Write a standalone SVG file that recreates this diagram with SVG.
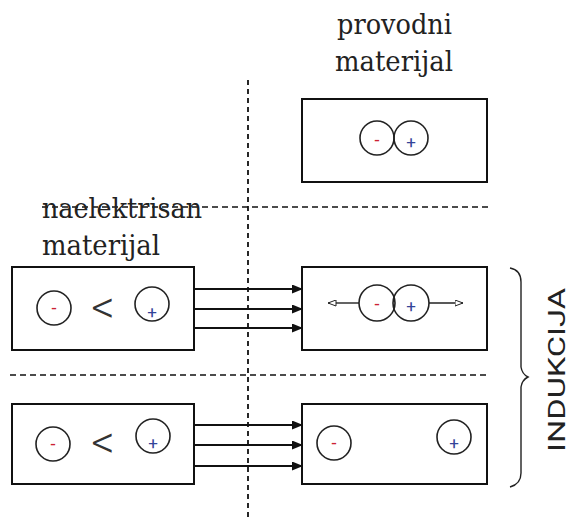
<svg xmlns="http://www.w3.org/2000/svg" width="573" height="521" viewBox="0 0 573 521">
<defs>
<style>
.box{fill:#fff;stroke:#111;stroke-width:2}
.c{fill:none;stroke:#222;stroke-width:1.6}
.dash{stroke:#111;stroke-width:1.5;stroke-dasharray:6 4;fill:none}
.vdash{stroke:#111;stroke-width:1.8;stroke-dasharray:5 4;fill:none}
.arr{stroke:#111;stroke-width:2;fill:none}
.thin{stroke:#222;stroke-width:1.4;fill:none}
</style>
<marker id="ah" markerWidth="11" markerHeight="9" refX="11" refY="4.5" orient="auto" markerUnits="userSpaceOnUse">
<path d="M0,0 L11,4.5 L0,9 Z" fill="#111"/>
</marker>
<marker id="oh" markerWidth="9" markerHeight="7" refX="8.5" refY="3.5" orient="auto" markerUnits="userSpaceOnUse">
<path d="M0.5,0.5 L8.5,3.5 L0.5,6.5 Z" fill="#fff" stroke="#222" stroke-width="1"/>
</marker>
</defs>
<rect width="573" height="521" fill="#fff"/>

<g id="guides">
<line class="vdash" x1="248" y1="80" x2="248" y2="521"/>
<line class="dash" x1="42" y1="207" x2="488" y2="207"/>
<line class="dash" x1="10" y1="375" x2="488" y2="375"/>
</g>

<g id="label-provodni" font-family="'DejaVu Serif', serif" font-size="28" fill="#222">
<text x="337" y="34" textLength="115" lengthAdjust="spacingAndGlyphs">provodni</text>
<text x="335" y="71" textLength="118" lengthAdjust="spacingAndGlyphs">materijal</text>
</g>

<g id="label-naelektrisan" font-family="'DejaVu Serif', serif" font-size="28" fill="#222">
<text x="42" y="218" textLength="160" lengthAdjust="spacingAndGlyphs">naelektrisan</text>
<text x="42" y="255" textLength="118" lengthAdjust="spacingAndGlyphs">materijal</text>
</g>

<g id="conductor-top">
<rect class="box" x="302" y="99" width="185" height="83"/>
<circle class="c" cx="377" cy="138" r="17"/>
<circle class="c" cx="411" cy="138" r="17"/>
<text x="377" y="146" font-family="Roboto, sans-serif" font-size="18" fill="#cc2233" text-anchor="middle">-</text>
<text x="411" y="148" font-family="Roboto, sans-serif" font-size="17" fill="#334499" text-anchor="middle">+</text>
</g>

<g id="charged-1">
<rect class="box" x="12" y="267" width="182" height="83"/>
<circle class="c" cx="54" cy="308" r="17"/>
<text x="54" y="314" font-family="Roboto, sans-serif" font-size="18" fill="#cc2233" text-anchor="middle">-</text>
<text x="103" y="323" font-family="Roboto, sans-serif" font-weight="300" font-size="46" fill="#333" text-anchor="middle">&lt;</text>
<circle class="c" cx="152" cy="304" r="17"/>
<text x="152" y="318" font-family="Roboto, sans-serif" font-size="17" fill="#334499" text-anchor="middle">+</text>
</g>

<g id="conductor-mid">
<rect class="box" x="302" y="267" width="185" height="83"/>
<circle class="c" cx="377" cy="303" r="18"/>
<circle class="c" cx="411" cy="303" r="18"/>
<text x="377" y="310" font-family="Roboto, sans-serif" font-size="18" fill="#cc2233" text-anchor="middle">-</text>
<text x="411" y="312" font-family="Roboto, sans-serif" font-size="17" fill="#334499" text-anchor="middle">+</text>
<line class="thin" x1="359" y1="303" x2="328" y2="303" marker-end="url(#oh)"/>
<line class="thin" x1="429" y1="303" x2="463" y2="303" marker-end="url(#oh)"/>
</g>

<g id="charged-2">
<rect class="box" x="12" y="404" width="182" height="80"/>
<circle class="c" cx="53" cy="444" r="17"/>
<text x="53" y="450" font-family="Roboto, sans-serif" font-size="18" fill="#cc2233" text-anchor="middle">-</text>
<text x="103" y="458" font-family="Roboto, sans-serif" font-weight="300" font-size="46" fill="#333" text-anchor="middle">&lt;</text>
<circle class="c" cx="153" cy="436" r="17"/>
<text x="153" y="449" font-family="Roboto, sans-serif" font-size="17" fill="#334499" text-anchor="middle">+</text>
</g>

<g id="conductor-bottom">
<rect class="box" x="302" y="404" width="185" height="80"/>
<circle class="c" cx="334" cy="443" r="17"/>
<text x="334" y="449" font-family="Roboto, sans-serif" font-size="18" fill="#cc2233" text-anchor="middle">-</text>
<circle class="c" cx="454" cy="437" r="17"/>
<text x="454" y="449" font-family="Roboto, sans-serif" font-size="17" fill="#334499" text-anchor="middle">+</text>
</g>

<g id="connectors">
<line class="arr" x1="194" y1="289" x2="303" y2="289" marker-end="url(#ah)"/>
<line class="arr" x1="194" y1="309" x2="303" y2="309" marker-end="url(#ah)"/>
<line class="arr" x1="194" y1="328" x2="303" y2="328" marker-end="url(#ah)"/>
<line class="arr" x1="194" y1="425" x2="303" y2="425" marker-end="url(#ah)"/>
<line class="arr" x1="194" y1="445" x2="303" y2="445" marker-end="url(#ah)"/>
<line class="arr" x1="194" y1="466" x2="303" y2="466" marker-end="url(#ah)"/>
</g>

<g id="brace-indukcija">
<path class="thin" d="M510,268 Q521,270 521,282 L521,367 Q522,374 528,377 Q522,380 521,387 L521,473 Q521,484 510,487"/>
<text transform="translate(565,370) rotate(-90)" text-anchor="middle" font-family="Roboto, sans-serif" font-size="24" fill="#222" textLength="164" lengthAdjust="spacingAndGlyphs">INDUKCIJA</text>
</g>
</svg>
